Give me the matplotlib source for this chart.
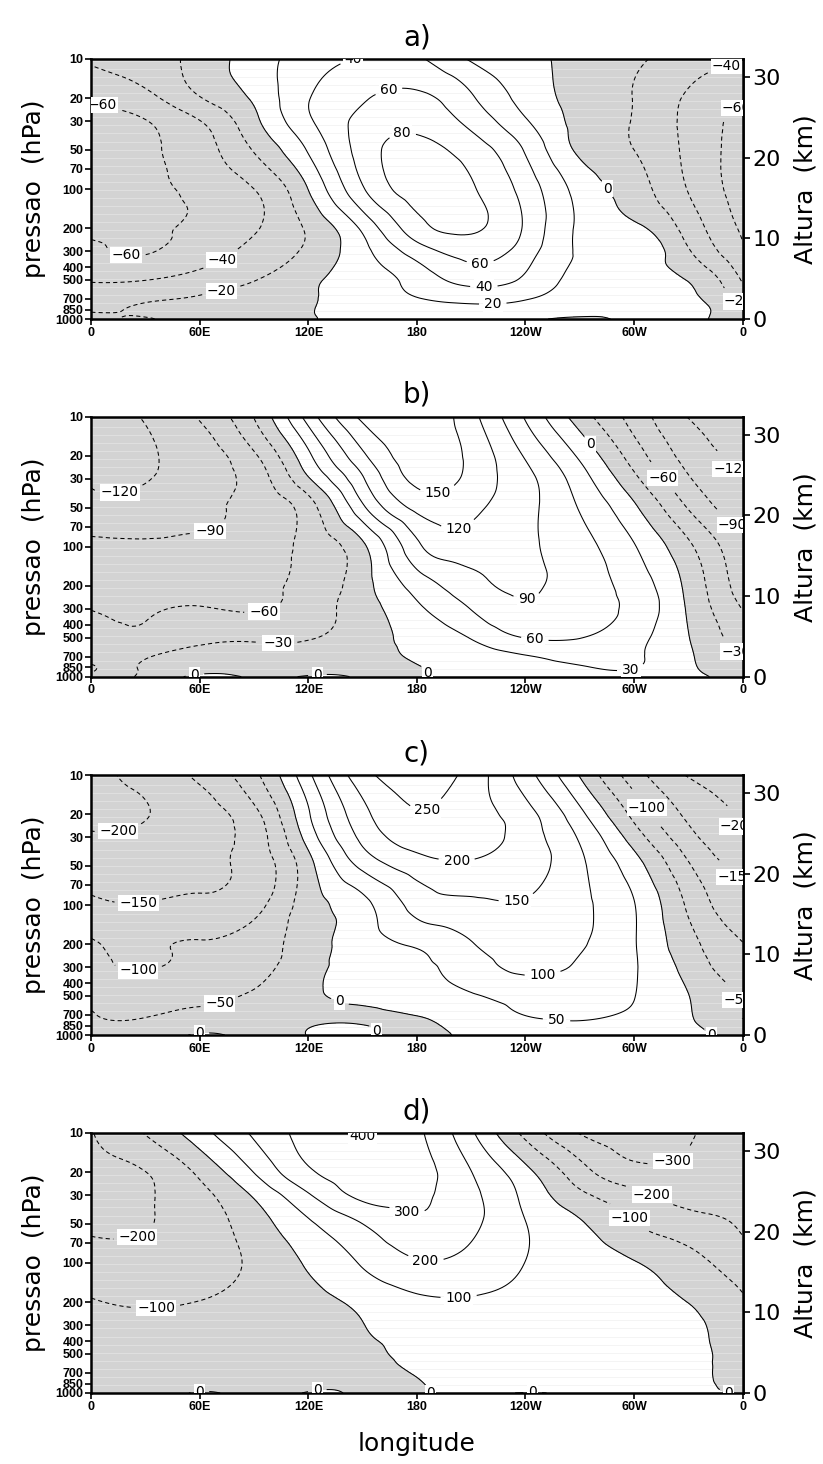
import numpy as np
import matplotlib
matplotlib.use("Agg")
import matplotlib.pyplot as plt
import matplotlib.tri as mtri
from matplotlib.ticker import NullLocator

plt.rcParams['lines.dashed_pattern'] = [4.0, 3.0]

# grid of the cross sections: longitude (deg east) x pressure (hPa)
lons = [0, 30, 60, 90, 120, 150, 180, 210, 240, 270, 300, 330, 360]
levels_hpa = [1000, 850, 700, 500, 300, 200, 100, 50, 30, 20, 10]

# values, one row per pressure level (1000 -> 10 hPa)
field_a = [
    [-17, -20.5, -13, -7, -1, 5, 9, 12, 4, -2, 4, 6, -17],
    [-21, -19, -15, -9, -1, 6, 12, 16, 12, 6, 5, 8, -21],
    [-27, -22, -18, -10, -2, 10, 19, 25, 21, 12, 8, 5, -24],
    [-42, -40.5, -32, -21, -4, 10, 28, 47, 36, 13, 5, -1, -42],
    [-57, -61, -50, -35, -16, 14, 50, 68, 50, 18, 14, -18, -57],
    [-63, -61.5, -57, -42, -17, 24, 72, 83, 57, 17, 5, -28, -63],
    [-68, -64, -56, -40, 0.5, 58, 88, 82, 52, 13, -11, -41, -68],
    [-67, -62.5, -49, -18.5, 22, 69, 86, 71, 38, -4, -20, -45, -67],
    [-64, -60.5, -40.5, -5, 36.7, 66, 74, 54, 22, -6, -21, -46, -64],
    [-58, -46.6, -21, 3.2, 39, 58, 65, 42.6, 12.8, -6.5, -20.6, -43, -58],
    [-37, -27, -14, 11, 29, 41, 42, 17.5, 5, -6, -16.5, -30, -37],
]
field_b = [
    [-32, -25, 8, -5, 3, -3, -2, 6, 14, 20, 22, 8, -15],
    [-29, -28, -15, -18, -14, -8, -1, 10, 20, 28, 31, 5, -22],
    [-36, -32, -22, -24, -20, -10, 3, 14, 28, 38, 34, 4, -30],
    [-47, -53, -38, -34, -32, -13.5, 8.6, 32, 61, 61, 40, 1, -47],
    [-61, -64, -58, -63, -45, -14, 24.5, 61, 86, 73, 52, -3.6, -61],
    [-78, -80, -79, -73, -50, -11.5, 42, 79, 94, 75.5, 47.5, -8, -75],
    [-86, -88, -88, -84, -51, -6, 83, 105, 95, 71, 32, -24, -86],
    [-112, -108, -97, -83, -43, 54, 128, 128, 98.7, 58, 5, -62, -112],
    [-121, -121.5, -104, -77, -3, 87, 158, 141, 99, 44, -23, -87, -121],
    [-127, -123, -105, -64.4, 23.4, 114, 165, 142.5, 87, 25, -44, -101, -127],
    [-130, -118, -87, -29, 72.6, 157, 175, 130, 57, -14.7, -72, -121, -130],
]
field_c = [
    [-36, -30, 5, -15, 1, 3, -6, 6, 20, 28, 22, 15, -30],
    [-42, -38, -18, -22, -2, 1, -5, 12, 32, 42, 30, 8, -40],
    [-48, -53, -40, -28, -10, -6, 1, 22, 51, 58, 42, 4, -54],
    [-60, -64, -58, -43, -9, 12, 29, 46, 66, 72, 51, 1, -56],
    [-85, -103, -88, -70, -16, 16, 39, 74, 113, 92.6, 54, -18, -86],
    [-97, -106, -97, -78, -24, 28, 56.8, 97, 122, 104, 53.4, -33, -98],
    [-140, -147, -140, -118, -25, 35.5, 118, 140, 145, 110, 52, -58, -140],
    [-165, -163, -158, -132, -18, 112.5, 175, 190, 172, 110, 22, -94, -165],
    [-196, -185, -163, -127, 21, 162.5, 228, 228, 175.6, 94, -24, -134, -196],
    [-205, -202, -169, -114, 44.6, 185, 248, 223.7, 168, 63.8, -63.6, -160, -205],
    [-215, -182.5, -139, -62, 89, 231, 275, 231, 122, -3, -127, -203, -215],
]
field_d = [
    [-30, -28, 4, -18, 3, -8, -4, 5, -1, 6, 8, 8, -4],
    [-38, -35, -20, -25, -12, -8, -2, 10, 14, 14, 14, 12, -20],
    [-45, -45, -38, -30, -20, -10, 2, 15, 22, 22, 20, 15, -30],
    [-60, -60, -52, -40, -25, -8, 10, 25, 32, 30, 24, 20, -40],
    [-80, -82, -72, -55, -28, -1, 25, 45, 48, 38, 22, 18, -72],
    [-95, -108, -98, -66, -25, 20, 75, 88, 72, 45, 22, -1, -88],
    [-160, -170, -145, -82, 12, 110, 190, 165, 99, 53, 5, -61, -160],
    [-210, -204, -153, -48, 84, 200, 280, 225, 102, 11, -95, -162, -210],
    [-215, -208, -131, 12, 190, 325, 325, 225, 75, -77, -173, -235, -225],
    [-215, -201, -79, 103, 285, 355, 340, 202, 30, -159, -270, -275, -230],
    [-205, -94, 60, 216, 340, 405, 320, 116, -129, -305, -330, -310, -215],
]
intervals = [20, 30, 50, 100]
titles = ["a)", "b)", "c)", "d)"]

# where the contour labels sit (lon, hPa)
labels_a = [(7, 20), (19, 350), (71, 330), (73, 714), (154, 11), (165, 19),
            (172, 38), (215, 370), (217, 567), (222, 823), (287, 96),
            (351, 11.5), (356, 23), (356, 760)]
labels_b = [(16, 40), (68, 97), (96, 366), (103, 724), (191, 33.5), (202, 66),
            (241, 281), (245, 538), (298, 862), (275, 16.5), (185, 950),
            (318, 28), (352, 27), (356, 65), (356, 646), (57, 900), (125, 960)]
labels_c = [(16, 33), (26, 94), (26, 355), (71, 570), (136, 641), (60, 980),
            (187, 21), (202, 42), (235, 91), (250, 388), (257, 813),
            (309, 17), (355, 26), (357, 60), (357, 538), (344, 975), (164, 985)]
labels_d = [(26, 70), (36, 237), (60, 970), (150, 11), (174, 44), (185, 90),
            (203, 176), (195, 985), (321, 16), (310, 29), (298, 44), (357, 985),
            (125, 975), (244, 985)]

fields = [field_a, field_b, field_c, field_d]
label_sets = [labels_a, labels_b, labels_c, labels_d]

H = 7.0  # scale height for the km axis
shade = '#d3d3d3'

def p2z(p):
    return H * np.log(1000.0 / np.maximum(p, 1e-6))

def z2p(z):
    return 1000.0 * np.exp(-np.asarray(z) / H)

def fmt(v):
    return f"{v:.0f}".replace('-', '\u2212')

# triangulated grid (lon/30, log-pressure) so matplotlib's cubic refiner can smooth the lines
nx, ny = len(lons), len(levels_hpa)
lon_g, lev_g = np.meshgrid(lons, levels_hpa)
gx = lon_g.ravel() / 30.0
gy = np.log10(1000.0 / lev_g.ravel()) / 0.2
tris = []
for j in range(ny - 1):
    for k in range(nx - 1):
        a = j * nx + k
        tris.append([a, a + 1, a + nx + 1])
        tris.append([a, a + nx + 1, a + nx])
refiner = mtri.UniformTriRefiner(mtri.Triangulation(gx, gy, tris))

ptick = [1000, 850, 700, 500, 400, 300, 200, 100, 70, 50, 30, 20, 10]
xtick = [0, 60, 120, 180, 240, 300, 360]
xlab = ['0', '60E', '120E', '180', '120W', '60W', '0']
tickfont = {'family': 'Liberation Sans', 'weight': 'bold', 'size': 9}

fig = plt.figure(figsize=(8.23, 14.64), dpi=100)
bottoms = [0.7821, 0.5378, 0.2930, 0.0485]

for i in range(4):
    ax = fig.add_axes([0.1109, bottoms[i], 0.7914, 0.1776])
    z = np.array(fields[i], dtype=float)
    step = intervals[i]
    ax.set_yscale('log')

    # faint horizontal banding of the shading
    for zk in np.arange(1, 33, 1.0):
        pk = z2p(zk)
        ax.axhline(pk, color='#eeeeee', lw=0.6, zorder=0.5)
        ax.axhline(pk, color='white', alpha=0.35, lw=0.6, zorder=1.5)

    tri_f, z_f = refiner.refine_field(z.ravel(), subdiv=4)
    tri_p = mtri.Triangulation(tri_f.x * 30.0, 1000.0 / 10 ** (tri_f.y * 0.2),
                               tri_f.triangles)

    ax.tricontourf(tri_p, z_f, levels=[z_f.min() - 1, 0], colors=[shade], zorder=1)
    lv = [v for v in np.arange(-10, 11) * step if z_f.min() < v < z_f.max()]
    ls = ['dashed' if v < 0 else 'solid' for v in lv]
    cs = ax.tricontour(tri_p, z_f, levels=lv, colors='black',
                       linewidths=0.75, linestyles=ls, zorder=2)
    txts = ax.clabel(cs, manual=label_sets[i], inline=True, fmt=fmt, fontsize=10)
    for t in txts:
        t.set_rotation(0)
        t.set_bbox(dict(boxstyle='square,pad=0.08', fc='white', ec='none'))
        t.set_clip_on(True)

    ax.set_xlim(0, 360)
    ax.set_ylim(1000, 10)
    ax.set_xticks(xtick)
    ax.set_xticklabels(xlab, fontdict=tickfont)
    ax.set_yticks(ptick)
    ax.set_yticklabels([str(v) for v in ptick], fontdict=tickfont)
    ax.yaxis.set_minor_locator(NullLocator())
    ax.tick_params(axis='both', which='major', direction='out', length=4,
                   width=1.2, pad=1.5, right=False, top=False)
    for sp in ax.spines.values():
        sp.set_linewidth(1.8)

    ax.set_title(titles[i], fontsize=20, pad=10)
    ax.set_ylabel('pressao  (hPa)', fontsize=18, labelpad=7)

    sec = ax.secondary_yaxis('right', functions=(p2z, z2p))
    sec.set_yticks([0, 10, 20, 30])
    sec.set_yticklabels(['0', '10', '20', '30'])
    sec.yaxis.set_minor_locator(NullLocator())
    sec.tick_params(direction='inout', length=10, width=1.2, labelsize=16, pad=2)
    sec.spines['right'].set_linewidth(1.8)
    sec.set_ylabel('Altura  (km)', fontsize=18, labelpad=9)

    if i == 3:
        ax.set_xlabel('longitude', fontsize=18, labelpad=14)

fig.savefig('out.png', dpi=100, facecolor='white')
